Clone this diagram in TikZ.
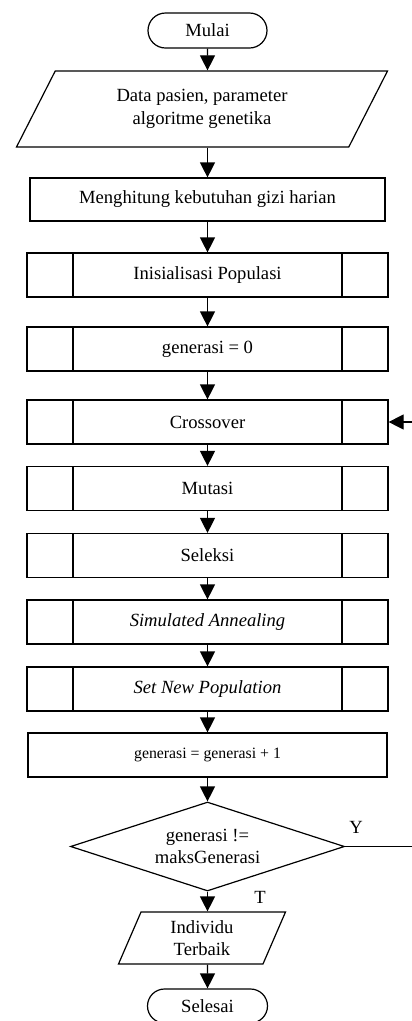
\documentclass[tikz,border=0pt]{standalone}
\usepackage{fontspec}
\setmainfont{Liberation Serif}
\usetikzlibrary{shapes.geometric,shapes.misc,arrows.meta}
\begin{document}
\begin{tikzpicture}[x=1pt,y=-1pt,line width=1.2pt,
  font=\fontsize{18.6}{22.4}\selectfont,
  term/.style={draw,rounded rectangle,minimum width=119pt,minimum height=35pt,inner sep=0pt},
  io/.style={draw,trapezium,trapezium left angle=45,trapezium right angle=135,trapezium stretches body,minimum height=76pt,align=center,inner sep=0pt},
  proc/.style={draw,rectangle,minimum width=361pt,minimum height=44pt,inner sep=0pt},
  sub/.style={proc,path picture={\draw ([xshift=46pt]path picture bounding box.north west) -- ([xshift=46pt]path picture bounding box.south west) ([xshift=-46pt]path picture bounding box.north east) -- ([xshift=-46pt]path picture bounding box.south east);}},
  cond/.style={draw,diamond,aspect=3.08,minimum width=274pt,minimum height=89pt,inner sep=0pt,align=center},
  arr/.style={-{Triangle[length=15pt,width=15pt]}}]
\useasboundingbox (0,0) rectangle (412,1021);
\node[term] (mulai) at (207.5,30.5) {Mulai};
\node[io,minimum width=371pt] (data) at (202,109) {Data pasien, parameter\\algoritme genetika};
\node[proc,minimum width=355pt,minimum height=43pt] (hitung) at (207.5,199.5) {Menghitung kebutuhan gizi harian};
\node[sub] (init) at (207.5,275) {Inisialisasi Populasi};
\node[sub] (gen0) at (207.5,349) {generasi = 0};
\node[sub] (cross) at (207.5,422) {Crossover};
\node[sub] (mutasi) at (207.5,488.5) {Mutasi};
\node[sub] (seleksi) at (207.5,555.5) {Seleksi};
\node[sub] (sa) at (207.5,622) {\itshape Simulated Annealing};
\node[sub] (snp) at (207.5,689) {\itshape Set New Population};
\node[proc,minimum width=359pt,font=\fontsize{15.8}{19}\selectfont] (gen1) at (207.5,755) {generasi = generasi + 1};
\node[cond] (cek) at (207.5,846.5) {generasi !=\\maksGenerasi};
\node[io,trapezium left angle=57.6,trapezium right angle=122.4,minimum width=167pt,minimum height=52pt] (hasil) at (202,938) {Individu\\Terbaik};
\node[term,minimum width=120pt,minimum height=34pt] (selesai) at (207.5,1006) {Selesai};
\node (ya) at (356,827) {Y};
\node (tidak) at (260,897) {T};
\coordinate (balik) at (413,846.5);
\draw[arr] (mulai) -- (mulai |- data.north);
\draw[arr] (data.south -| mulai) -- (hitung);
\draw[arr] (hitung) -- (init);
\draw[arr] (init) -- (gen0);
\draw[arr] (gen0) -- (cross);
\draw[arr] (cross) -- (mutasi);
\draw[arr] (mutasi) -- (seleksi);
\draw[arr] (seleksi) -- (sa);
\draw[arr] (sa) -- (snp);
\draw[arr] (snp) -- (gen1);
\draw[arr] (gen1) -- (cek);
\draw[arr] (cek) -- (cek |- hasil.north);
\draw[arr] (hasil.south -| cek) -- (selesai);
\draw[arr] (cek.east) -- (balik) |- (cross.east);
\end{tikzpicture}
\end{document}
